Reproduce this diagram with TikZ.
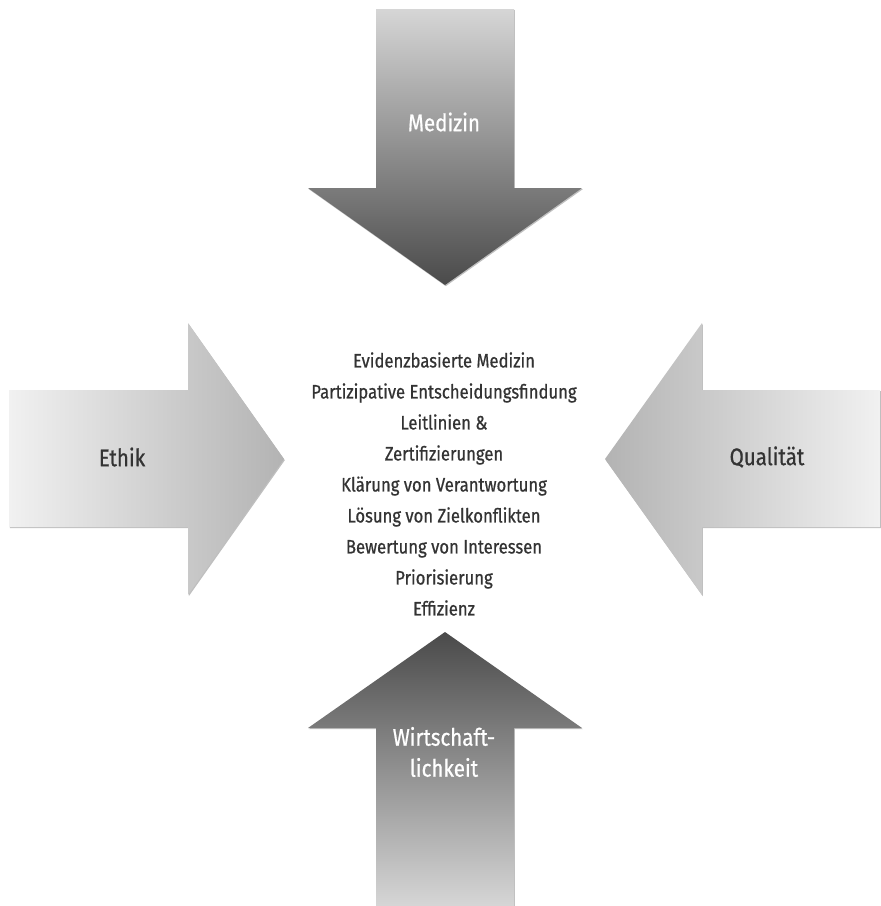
\documentclass[tikz,border=0pt]{standalone}
\usepackage{fontspec}
\setmainfont[FakeStretch=0.855, FakeBold=0.7]{Fira Sans}
\usetikzlibrary{shadows}
\definecolor{arrLight}{HTML}{D6D6D6}
\definecolor{arrDark}{HTML}{4A4A4A}
\definecolor{sideLight}{HTML}{F1F1F1}
\definecolor{sideDark}{HTML}{B3B3B3}
\definecolor{txt}{HTML}{333333}
\tikzset{
  arrowshape/.style={draw=none, drop shadow={shadow xshift=0.8pt, shadow yshift=-1.2pt, opacity=0.25, fill=black}},
  biglabel/.style={font=\fontsize{24}{30}\selectfont, align=center, inner sep=0pt},
  listtext/.style={font=\fontsize{19.5}{31}\selectfont, align=center, text=txt, inner sep=0pt}
}
\begin{document}
\begin{tikzpicture}[x=1pt,y=-1pt]
\useasboundingbox (0,0) rectangle (881,906);
% top arrow (Medizin)
\shade[arrowshape, top color=arrLight, bottom color=arrDark]
  (376,9) -- (514,9) -- (514,188) -- (582,188) -- (445,285) -- (308,188) -- (376,188) -- cycle;
% bottom arrow (Wirtschaftlichkeit)
\shade[arrowshape, top color=arrDark, bottom color=arrLight]
  (445,632) -- (582,728) -- (514,728) -- (514,906) -- (376,906) -- (376,728) -- (308,728) -- cycle;
% left arrow (Ethik)
\shade[arrowshape, left color=sideLight, right color=sideDark]
  (9,390) -- (188,390) -- (188,323) -- (284,459) -- (188,595) -- (188,527) -- (9,527) -- cycle;
% right arrow (Qualitaet)
\shade[arrowshape, left color=sideDark, right color=sideLight]
  (880,390) -- (702,390) -- (702,323) -- (605,459) -- (702,595) -- (702,527) -- (880,527) -- cycle;
% labels
\node[biglabel, text=white] (medizin) at (444,122) {Medizin};
\node[biglabel, text=txt] (ethik) at (122,457) {Ethik};
\node[biglabel, text=txt] (qualitaet) at (767,457) {Qualität};
\node[biglabel, text=white, font=\fontsize{24}{31}\selectfont] (wirtschaft) at (444,752) {Wirtschaft-\\lichkeit};
\node[listtext] (liste) at (444,484) {Evidenzbasierte Medizin\\
Partizipative Entscheidungsfindung\\
Leitlinien \&\\
Zertifizierungen\\
Klärung von Verantwortung\\
Lösung von Zielkonflikten\\
Bewertung von Interessen\\
Priorisierung\\
Effizienz};
\end{tikzpicture}
\end{document}
